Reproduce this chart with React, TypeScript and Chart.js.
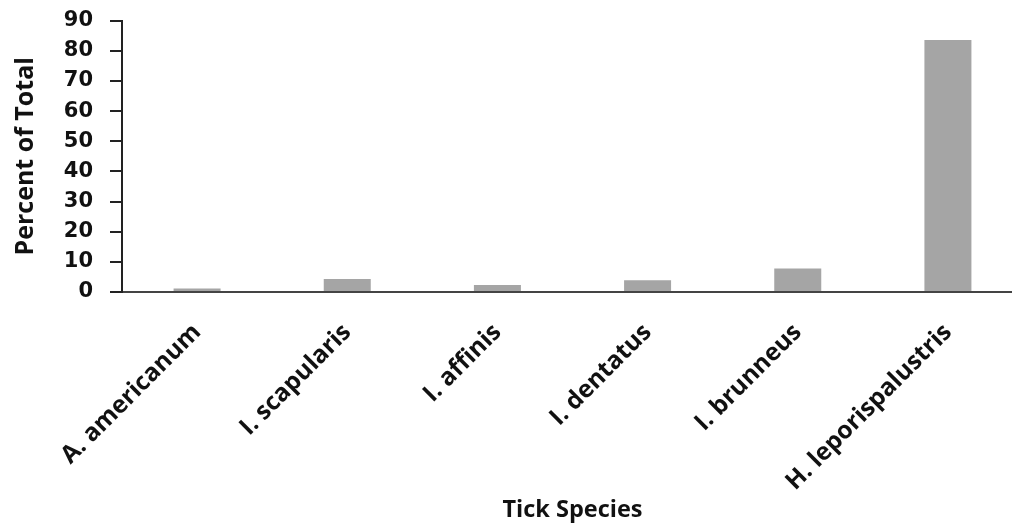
import React, { useEffect, useRef } from "react";
import { Chart, registerables } from "chart.js";

Chart.register(...registerables);

const categories = ["A. americanum", "I. scapularis", "I. affinis", "I. dentatus", "I. brunneus", "H. leporispalustris"];
const percentValues = [1.2, 4.3, 2.3, 3.9, 7.8, 83.6];
const yTicks = [0, 10, 20, 30, 40, 50, 60, 70, 80, 90];

const FONT = "'Open Sans', 'DejaVu Sans', sans-serif";
const NUM_FONT = "'DejaVu Sans', Verdana, sans-serif";

export default function App() {
  const ref = useRef<HTMLCanvasElement | null>(null);
  useEffect(() => {
    if (!ref.current) return;
    const chart = new Chart(ref.current, {
      type: "bar",
      data: {
        labels: categories,
        datasets: [
          {
            data: percentValues,
            backgroundColor: "#a5a5a5",
            borderWidth: 0,
            categoryPercentage: 1,
            barPercentage: 0.313,
          },
        ],
      },
      options: {
        responsive: false,
        animation: false,
        layout: { padding: { top: 11, left: 0, right: 0, bottom: 0 } },
        plugins: { legend: { display: false }, tooltip: { enabled: false } },
        scales: {
          x: {
            offset: true,
            afterFit: (axis: any) => {
              axis.height = 239;
            },
            grid: { display: false, drawTicks: false },
            border: { display: true, color: "#444", width: 2 },
            ticks: {
              color: "#111",
              font: { family: FONT, size: 24.5, weight: "bold" },
              maxRotation: 45,
              minRotation: 45,
              padding: 26,
            },
            title: {
              display: true,
              text: "Tick Species",
              color: "#111",
              font: { family: FONT, size: 23.5, weight: "bold" },
              padding: { top: 0, bottom: 7 },
            },
          },
          y: {
            min: 0,
            max: 90,
            afterFit: (axis: any) => {
              axis.width = 122;
            },
            afterBuildTicks: (axis: any) => {
              axis.ticks = yTicks.map((v) => ({ value: v }));
            },
            grid: { display: true, drawOnChartArea: false, drawTicks: true, tickLength: 12, color: "#222", lineWidth: 2 },
            border: { display: true, color: "#222", width: 2 },
            ticks: {
              color: "#111",
              font: { family: NUM_FONT, size: 21, weight: "bold" },
              padding: 17,
            },
            title: {
              display: true,
              text: "Percent of Total",
              color: "#111",
              font: { family: FONT, size: 25, weight: "bold" },
              padding: { top: 11, bottom: 0 },
            },
          },
        },
      },
    });
    return () => chart.destroy();
  }, []);
  return (
    <div style={{ position: "fixed", left: 0, top: 0, width: 1012, height: 531, overflow: "hidden", background: "#fff" }}>
      <canvas ref={ref} width={1023} height={540} style={{ display: "block", marginTop: -9 }} />
    </div>
  );
}
